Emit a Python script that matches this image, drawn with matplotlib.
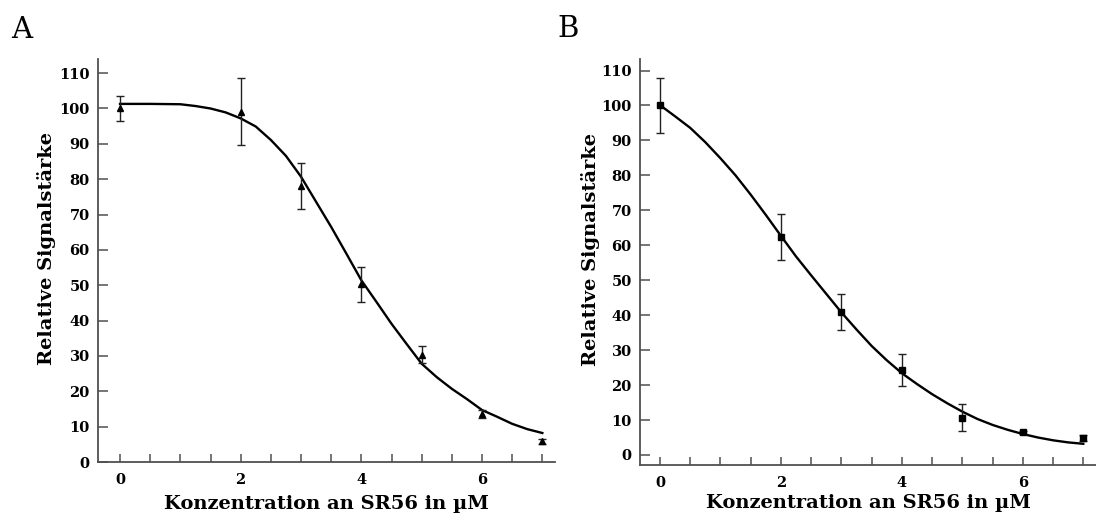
import numpy as np
import matplotlib
matplotlib.use("Agg")
import matplotlib.pyplot as plt

# ---- data ----
conc = [0, 2, 3, 4, 5, 6, 7]

a_mean = [100.0, 99.1, 78.1, 50.3, 30.4, 13.6, 5.8]
a_err = [3.5, 9.5, 6.5, 5.0, 2.4, 1.2, 0.8]
a_fit_x = [0, 0.5, 1, 1.25, 1.5, 1.75, 2, 2.25, 2.5, 2.75, 3, 3.25, 3.5,
           3.75, 4, 4.25, 4.5, 4.75, 5, 5.25, 5.5, 5.75, 6, 6.25, 6.5,
           6.75, 7]
a_fit_y = [101.3, 101.3, 101.2, 100.7, 100.0, 98.9, 97.2, 94.9, 91.1, 86.6,
           80.7, 73.6, 66.5, 59.0, 51.4, 45.3, 39.1, 33.4, 27.8, 24.0, 20.7,
           17.8, 14.7, 12.8, 10.8, 9.3, 8.2]

b_mean = [100.1, 62.4, 41.0, 24.3, 10.7, 6.5, 4.8]
b_err = [7.9, 6.5, 5.2, 4.5, 3.9, 0.4, 0.9]
b_fit_x = [0, 0.25, 0.5, 0.75, 1, 1.25, 1.5, 1.75, 2, 2.25, 2.5, 2.75, 3,
           3.25, 3.5, 3.75, 4, 4.25, 4.5, 4.75, 5, 5.25, 5.5, 5.75, 6, 6.25,
           6.5, 6.75, 7]
b_fit_y = [100.1, 96.9, 93.6, 89.5, 84.9, 80.0, 74.5, 68.7, 62.7, 56.8, 51.4,
           46.1, 40.8, 35.9, 31.2, 27.1, 23.4, 20.3, 17.4, 14.8, 12.4, 10.3,
           8.6, 7.2, 6.0, 5.0, 4.2, 3.6, 3.2]

yticks = [0, 10, 20, 30, 40, 50, 60, 70, 80, 90, 100, 110]
xticks = [0, 0.5, 1, 1.5, 2, 2.5, 3, 3.5, 4, 4.5, 5, 5.5, 6, 6.5, 7]
xtick_labels = ["0", "", "", "", "2", "", "", "", "4", "", "", "", "6", "", ""]
xlabel = "Konzentration an SR56 in µM"
ylabel = "Relative Signalstärke"
panel_labels = ["A", "B"]

# ---- figure ----
W, H = 1096, 513
fig = plt.figure(figsize=(W / 100, H / 100), dpi=100)

serif = ["DejaVu Serif"]
spine_col = "#505050"


def px_axes(left, right, top, bottom):
    return [left / W, 1 - bottom / H, (right - left) / W, (bottom - top) / H]


axA = fig.add_axes(px_axes(98, 555, 59, 462))
axB = fig.add_axes(px_axes(640, 1096, 59, 464.7))

setups = [
    (axA, a_mean, a_err, a_fit_x, a_fit_y, "^", (-0.365, 7.21), (0, 114.0), 5.5),
    (axB, b_mean, b_err, b_fit_x, b_fit_y, "s", (-0.33, 7.21), (-2.78, 113.3), 3.0),
]

for ax, mean, err, fx, fy, mk, xl, yl, lp in setups:
    ax.plot(fx, fy, color="black", lw=1.7, zorder=3, solid_joinstyle="round")
    ax.errorbar(conc, mean, yerr=err, fmt=mk, color="black", ms=4.5,
                ecolor="#222222", elinewidth=1.0, capsize=3, capthick=1.0,
                zorder=4)
    ax.set_xlim(*xl)
    ax.set_ylim(*yl)
    for s in ["top", "right"]:
        ax.spines[s].set_visible(False)
    for s in ["left", "bottom"]:
        ax.spines[s].set_color(spine_col)
        ax.spines[s].set_linewidth(1.3)
    ax.set_yticks(yticks)
    ax.set_yticklabels([str(v) for v in yticks], fontfamily=serif,
                       fontweight="bold", fontsize=10.5)
    ax.set_xticks(xticks)
    ax.set_xticklabels(xtick_labels, fontfamily=serif, fontweight="bold",
                       fontsize=10.5)
    ax.tick_params(axis="y", direction="in", length=7, width=1.1,
                   color=spine_col, pad=6)
    ax.tick_params(axis="x", direction="in", length=6, width=1.1,
                   color=spine_col, pad=8)
    ax.set_xlabel(xlabel, fontfamily=serif, fontweight="bold", fontsize=14,
                  labelpad=lp)
    ax.set_ylabel(ylabel, fontfamily=serif, fontweight="bold", fontsize=14)

axA.yaxis.set_label_coords(-0.092, 0.53)
axB.yaxis.set_label_coords(-0.088, 0.53)

fig.text(11 / W, 1 - 38 / H, panel_labels[0], fontfamily=serif, fontsize=21,
         ha="left", va="baseline")
fig.text(557 / W, 1 - 37 / H, panel_labels[1], fontfamily=serif, fontsize=21,
         ha="left", va="baseline")

fig.savefig("out.png", dpi=100)
